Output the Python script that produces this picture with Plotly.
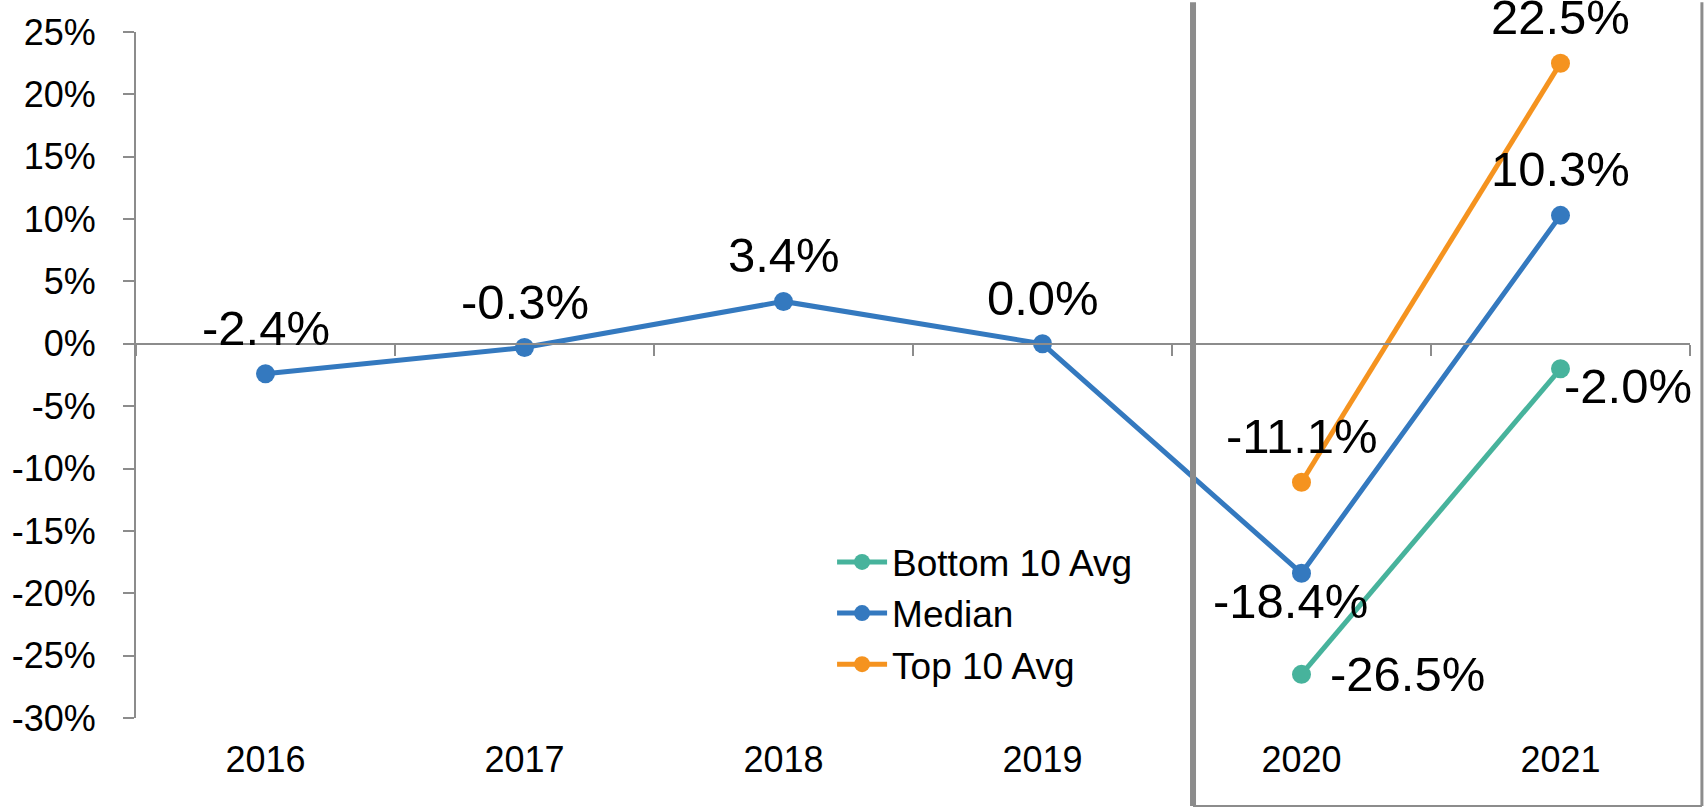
import plotly.graph_objects as go

years = ["2016", "2017", "2018", "2019", "2020", "2021"]
median_vals = [-2.4, -0.3, 3.4, 0.0, -18.4, 10.3]
top_years = ["2020", "2021"]
top_vals = [-11.1, 22.5]
bottom_years = ["2020", "2021"]
bottom_vals = [-26.5, -2.0]
y_ticks = [-30, -25, -20, -15, -10, -5, 0, 5, 10, 15, 20, 25]
y_ticktext = ["-30%", "-25%", "-20%", "-15%", "-10%", "-5%", "0%", "5%", "10%", "15%", "20%", "25%"]

C_TEAL = "#47B39C"
C_BLUE = "#3479BF"
C_ORANGE = "#F5931F"
GRAY = "#8C8C8C"
FONT = "Liberation Sans, Arial, sans-serif"
LABEL_SIZE = 49

W, H = 1705, 809
ML, MR, MT, MB = 125, 15, 25, 91
PW, PH = W - ML - MR, H - MT - MB


def lab(v):
    return f"{v:.1f}%"


fig = go.Figure()
fig.add_trace(go.Scatter(
    x=bottom_years, y=bottom_vals, name="Bottom 10 Avg", mode="lines+markers",
    line=dict(color=C_TEAL, width=5), marker=dict(size=19, color=C_TEAL)))
fig.add_trace(go.Scatter(
    x=years, y=median_vals, name="Median", mode="lines+markers",
    line=dict(color=C_BLUE, width=5), marker=dict(size=19, color=C_BLUE)))
fig.add_trace(go.Scatter(
    x=top_years, y=top_vals, name="Top 10 Avg", mode="lines+markers",
    line=dict(color=C_ORANGE, width=5), marker=dict(size=19, color=C_ORANGE)))
# invisible trace that carries the zero-line axis with its boundary ticks
fig.add_trace(go.Scatter(x=years, y=[0] * len(years), xaxis="x2", mode="lines",
                         line=dict(width=0), opacity=0, showlegend=False, hoverinfo="skip"))


# data labels (placement style: xanchor, xshift, yshift); x given as category index
def add_labels(xs, ys, styles):
    for x, y, (xa, dx, dy) in zip(xs, ys, styles):
        fig.add_annotation(x=years.index(x), y=y, xref="x", yref="y", text=lab(y),
                           showarrow=False, xanchor=xa, yanchor="middle",
                           xshift=dx, yshift=dy,
                           font=dict(size=LABEL_SIZE, color="black", family=FONT))


above = ("center", 0, 46)
add_labels(years, median_vals, [above, above, above, above, ("center", -11, -28), above])
add_labels(top_years, top_vals, [above, above])
add_labels(bottom_years, bottom_vals, [("left", 26, 0), ("left", 1, -17)])

ymin, ymax = y_ticks[0], y_ticks[-1]
zero_pos = (0 - ymin) / (ymax - ymin)
xr = [-0.5, len(years) - 0.5]

fig.update_layout(
    width=W, height=H,
    margin=dict(l=ML, r=MR, t=MT, b=MB),
    paper_bgcolor="white", plot_bgcolor="white",
    font=dict(family=FONT, size=36, color="black"),
    showlegend=True,
    legend=dict(x=(826 - ML) / PW, y=0.272, xanchor="left", yanchor="top",
                font=dict(size=37, family=FONT), bgcolor="rgba(0,0,0,0)",
                itemwidth=50, tracegroupgap=0),
    xaxis=dict(type="category", categoryorder="array", categoryarray=years, range=xr,
               showline=False, showgrid=False, zeroline=False, ticks="",
               ticklabelstandoff=17, tickfont=dict(size=36)),
    xaxis2=dict(type="category", overlaying="x", matches="x", anchor="free",
                position=zero_pos, side="bottom", showline=True, linecolor=GRAY,
                linewidth=2, ticks="outside", ticklen=11, tickwidth=2, tickcolor=GRAY,
                tickson="boundaries", showticklabels=False, showgrid=False, zeroline=False),
    yaxis=dict(range=[ymin, ymax], tickvals=y_ticks, ticktext=y_ticktext,
               showline=True, linecolor=GRAY, linewidth=2, ticks="outside",
               ticklen=11, tickwidth=2, tickcolor=GRAY, showgrid=False, zeroline=False,
               ticklabelstandoff=20, tickfont=dict(size=36)),
)

# gray frame around the 2020-2021 section (paper coordinates from pixel layout)
fx0, fx1 = (1189.5 - ML) / PW, (1702 - ML) / PW
fy0, fy1 = ((H - MB) - 807) / PH, ((H - MB) + 5) / PH
fig.add_shape(type="line", xref="paper", yref="paper", x0=fx0, x1=fx0, y0=fy0, y1=fy1,
              line=dict(color=GRAY, width=6))
fig.add_shape(type="line", xref="paper", yref="paper", x0=fx1, x1=fx1, y0=fy0, y1=fy1,
              line=dict(color=GRAY, width=3))
fig.add_shape(type="line", xref="paper", yref="paper", x0=fx0, x1=fx1, y0=fy0, y1=fy0,
              line=dict(color=GRAY, width=2))

fig.write_html("out.html", config={"displayModeBar": False},
               post_script="document.body.style.margin='0';document.body.style.overflow='hidden';")
